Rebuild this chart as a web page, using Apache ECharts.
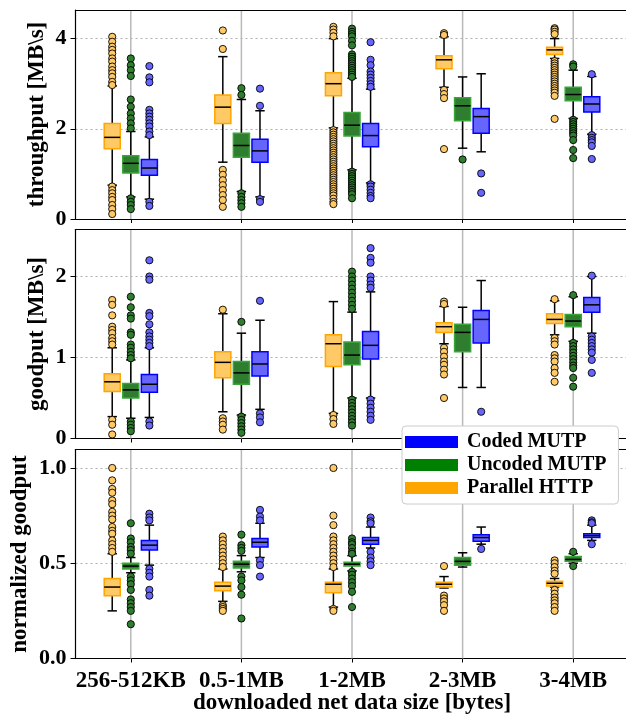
<!DOCTYPE html>
<html><head><meta charset="utf-8">
<script src="https://cdn.jsdelivr.net/npm/echarts@6/dist/echarts.min.js"></script>
<style>html,body{margin:0;padding:0;background:#fff}#c{width:626px;height:714px}</style>
</head><body><div id="c"></div><script>
// ---------- data ----------
const categories = ['256-512KB', '0.5-1MB', '1-2MB', '2-3MB', '3-4MB'];
const throughputTicks = [0, 2, 4];
const goodputTicks = [0, 1, 2];
const normTicks = [0, 0.5, 1.0];

// box stats per category: [lowWhisker, Q1, median, Q3, highWhisker]
const thrHTTP = [[0.75,1.56,1.81,2.12,2.95],[1.26,2.12,2.48,2.75,3.60],[2.02,2.73,3.00,3.24,4.00],[2.92,3.33,3.53,3.62,4.04],[3.56,3.65,3.75,3.81,4.00]];
const thrUncoded = [[0.49,1.02,1.235,1.40,1.94],[0.61,1.37,1.63,1.90,2.65],[1.09,1.84,2.08,2.36,3.12],[1.57,2.18,2.51,2.69,3.15],[2.23,2.62,2.76,2.92,3.30]];
const thrCoded = [[0.44,0.97,1.13,1.32,1.82],[0.49,1.26,1.51,1.77,2.40],[0.80,1.60,1.85,2.12,2.88],[1.49,1.90,2.27,2.45,3.22],[1.88,2.37,2.55,2.71,3.16]];
const thrHTTPOut = [
 [4.04,3.93,3.82,3.75,3.67,3.56,3.49,3.38,3.30,3.23,3.15,3.04,2.97,0.72,0.64,0.57,0.49,0.42,0.31,0.22,0.11],
 [4.18,3.77,1.09,0.98,0.86,0.75,0.64,0.53,0.42,0.27],
 [4.26,4.20,4.13,4.05,1.97,1.92,1.87,1.82,1.77,1.72,1.67,1.62,1.57,1.52,1.47,1.42,1.37,1.32,1.27,1.22,1.17,1.12,1.07,1.02,0.97,0.92,0.87,0.82,0.77,0.72,0.67,0.62,0.57,0.52,0.45,0.38,0.33],
 [4.12,4.08,2.86,2.77,2.68,1.55],
 [4.23,4.20,4.15,4.10,3.50,3.45,3.40,3.35,3.30,3.25,3.20,3.15,3.10,3.05,3.00,2.95,2.90,2.85,2.80,2.73,2.22]];
const thrUncodedOut = [
 [3.56,3.41,3.30,3.17,2.65,2.49,2.34,2.23,2.12,2.01,0.46,0.38,0.31,0.22],
 [2.90,2.75,0.57,0.49,0.42,0.35,0.27],
 [4.22,4.15,4.10,4.05,3.95,3.85,3.65,3.60,3.55,3.50,3.45,3.40,3.35,3.30,3.25,3.20,3.15,1.05,1.00,0.95,0.90,0.85,0.80,0.75,0.70,0.65,0.60,0.55,0.46],
 [1.32],
 [3.43,3.38,2.20,2.15,2.10,2.05,2.00,1.95,1.90,1.85,1.75,1.53,1.35]];
const thrCodedOut = [
 [3.39,3.14,3.03,2.42,2.34,2.27,2.20,2.12,2.05,1.94,1.86,0.38,0.29],
 [2.89,2.51,0.44,0.38],
 [3.92,3.53,3.41,3.27,3.20,3.13,3.06,2.99,2.93,0.77,0.72,0.65,0.58,0.51,0.46],
 [1.01,0.58],
 [3.21,1.86,1.80,1.75,1.70,1.62,1.33]];

const gpHTTP = [[0.27,0.58,0.70,0.80,1.12],[0.33,0.75,0.94,1.07,1.54],[0.31,0.89,1.17,1.28,1.69],[1.17,1.31,1.38,1.43,1.63],[1.28,1.42,1.47,1.54,1.70]];
const gpUncoded = [[0.25,0.50,0.60,0.68,0.97],[0.29,0.67,0.81,0.95,1.30],[0.50,0.91,1.03,1.19,1.56],[0.63,1.07,1.31,1.41,1.62],[1.20,1.38,1.45,1.53,1.75]];
const gpCoded = [[0.26,0.57,0.67,0.79,1.12],[0.36,0.77,0.92,1.07,1.46],[0.50,0.98,1.15,1.32,1.81],[0.63,1.18,1.47,1.58,1.95],[1.30,1.56,1.65,1.74,2.00]];
const gpHTTPOut = [
 [1.71,1.65,1.52,1.38,1.34,1.30,1.24,1.20,1.16,0.23,0.17,0.05],
 [1.59,0.25,0.21,0.17,0.11],
 [0.29,0.24,0.18],
 [1.69,1.66,1.12,1.07,1.01,0.95,0.91,0.85,0.79,0.50],
 [1.72,1.24,1.20,1.16,1.03,0.99,0.95,0.87,0.81,0.70]];
const gpUncodedOut = [
 [1.75,1.62,1.52,1.48,1.31,1.28,1.16,1.12,1.07,1.03,0.99,0.21,0.17,0.13,0.09],
 [1.44,0.27,0.23,0.19,0.15,0.11,0.07],
 [2.06,2.00,1.95,1.90,1.85,1.80,1.75,1.70,1.65,1.60,0.48,0.44,0.40,0.36,0.32,0.28,0.24,0.20,0.16],
 [],
 [1.77,1.18,1.14,1.10,1.06,1.02,0.98,0.94,0.90,0.87,0.75,0.64]];
const gpCodedOut = [
 [2.20,2.00,1.96,1.55,1.51,1.41,1.31,1.26,1.22,1.18,1.14,0.21,0.16],
 [1.70,0.31,0.26,0.20],
 [2.35,2.23,2.17,2.00,1.95,1.90,1.86,0.48,0.43,0.38,0.33,0.28,0.23],
 [0.33],
 [2.01,1.26,1.22,1.18,1.14,1.10,1.06,0.97,0.81]];

const ngHTTP = [[0.25,0.33,0.375,0.42,0.55],[0.30,0.355,0.38,0.40,0.47],[0.27,0.345,0.39,0.40,0.47],[0.37,0.375,0.39,0.40,0.43],[0.375,0.38,0.395,0.405,0.42]];
const ngUncoded = [[0.45,0.47,0.485,0.50,0.53],[0.455,0.475,0.495,0.51,0.54],[0.46,0.485,0.495,0.505,0.54],[0.48,0.49,0.51,0.53,0.555],[0.50,0.51,0.52,0.535,0.55]];
const ngCoded = [[0.49,0.57,0.595,0.62,0.70],[0.53,0.585,0.61,0.63,0.71],[0.58,0.60,0.62,0.635,0.69],[0.60,0.615,0.635,0.65,0.69],[0.62,0.635,0.645,0.655,0.70]];
const ngHTTPOut = [
 [1.00,0.935,0.89,0.87,0.83,0.81,0.77,0.75,0.73,0.69,0.67,0.655,0.62,0.60,0.58,0.56],
 [0.64,0.62,0.60,0.58,0.56,0.54,0.52,0.50,0.48,0.28,0.27,0.26,0.25],
 [1.00,0.75,0.70,0.64,0.62,0.60,0.58,0.56,0.54,0.52,0.50,0.48,0.26,0.25],
 [0.485,0.33,0.315,0.30,0.28,0.25],
 [0.515,0.50,0.48,0.46,0.445,0.36,0.34,0.32,0.305,0.29,0.27,0.25]];
const ngUncodedOut = [
 [0.71,0.63,0.61,0.585,0.57,0.55,0.43,0.41,0.39,0.36,0.31,0.29,0.27,0.25,0.18],
 [0.65,0.595,0.58,0.565,0.43,0.41,0.375,0.335,0.21],
 [0.63,0.61,0.60,0.58,0.56,0.55,0.455,0.44,0.42,0.40,0.38,0.35,0.27],
 [],
 [0.56,0.485]];
const ngCodedOut = [
 [0.76,0.74,0.725,0.47,0.45,0.43,0.36,0.33],
 [0.78,0.745,0.725,0.515,0.49,0.43],
 [0.74,0.72,0.71,0.56,0.53,0.51,0.49],
 [0.575],
 [0.725,0.715,0.71,0.60]];

// ---------- styling ----------
const FONT = 'Liberation Serif';
const STY = {
  'Parallel HTTP': {off: -1, fill: '#ffc966', edge: '#ffa500', dot: '#ffc966', legend: '#ffa500'},
  'Uncoded MUTP': {off: 0, fill: '#2f7d2f', edge: '#3aa63a', dot: '#2f7d2f', legend: '#008000'},
  'Coded MUTP': {off: 1, fill: '#6666ff', edge: '#0000ff', dot: '#6666ff', legend: '#0000ff'}
};
const OFFSET = 0.168, BOXW = 0.145, CAPW = 0.085;

function boxSeries(name, gi, stats) {
  const s = STY[name];
  return {
    type: 'custom', name, xAxisIndex: gi, yAxisIndex: gi, z: 3,
    encode: {x: 0, y: [1, 2, 3, 4, 5]},
    data: stats.map((v, i) => [i].concat(v)),
    renderItem: function (params, api) {
      const cat = api.value(0);
      const bw = api.size([1, 0])[0];
      const x = api.coord([cat, 0])[0] + s.off * bw * OFFSET;
      const w = bw * BOXW, cw = bw * CAPW;
      const y = k => api.coord([cat, api.value(k)])[1];
      const yL = y(1), yQ1 = y(2), yM = y(3), yQ3 = y(4), yH = y(5);
      const ls = {stroke: '#000', lineWidth: 1.5};
      return {type: 'group', children: [
        {type: 'line', shape: {x1: x, y1: yH, x2: x, y2: yQ3}, style: ls},
        {type: 'line', shape: {x1: x, y1: yQ1, x2: x, y2: yL}, style: ls},
        {type: 'line', shape: {x1: x - cw / 2, y1: yH, x2: x + cw / 2, y2: yH}, style: ls},
        {type: 'line', shape: {x1: x - cw / 2, y1: yL, x2: x + cw / 2, y2: yL}, style: ls},
        {type: 'rect', shape: {x: x - w / 2, y: yQ3, width: w, height: yQ1 - yQ3}, style: {fill: s.fill, stroke: s.edge, lineWidth: 1.5}},
        {type: 'line', shape: {x1: x - w / 2, y1: yM, x2: x + w / 2, y2: yM}, style: ls}
      ]};
    }
  };
}
function outSeries(name, gi, outs) {
  const s = STY[name];
  const data = [];
  outs.forEach((arr, i) => arr.forEach(v => data.push([i, v])));
  return {
    type: 'custom', name, xAxisIndex: gi, yAxisIndex: gi, z: 4,
    encode: {x: 0, y: 1},
    data,
    renderItem: function (params, api) {
      const cat = api.value(0);
      const bw = api.size([1, 0])[0];
      const p = api.coord([cat, api.value(1)]);
      return {type: 'circle', shape: {cx: p[0] + s.off * bw * OFFSET, cy: p[1], r: 3.6},
        style: {fill: s.dot, stroke: '#000', lineWidth: 0.9}};
    }
  };
}
function vlineSeries(gi) {
  return {
    type: 'custom', xAxisIndex: gi, yAxisIndex: gi, z: 1, silent: true,
    encode: {x: 0, y: 1},
    data: categories.map((c, i) => [i, 0]),
    renderItem: function (params, api) {
      const cs = params.coordSys;
      const x = api.coord([api.value(0), 0])[0];
      return {type: 'line', shape: {x1: x, y1: cs.y, x2: x, y2: cs.y + cs.height},
        style: {stroke: '#b8b8b8', lineWidth: 1.5}};
    }
  };
}

const GRID_TOPS = [10, 229.5, 449.5];
const GRID_H = 209;
const grids = GRID_TOPS.map(t => ({left: 75.5, top: t, width: 553, height: GRID_H, show: false, containLabel: false, outerBoundsMode: 'none'}));

const xAxes = [];
[0, 1, 2].forEach(gi => {
  xAxes.push({
    type: 'category', gridIndex: gi, data: categories, boundaryGap: true, position: 'bottom',
    axisLine: {show: true, lineStyle: {color: '#000', width: 1.2}},
    axisTick: {show: true, alignWithLabel: true, length: 4, lineStyle: {color: '#000'}},
    axisLabel: {show: gi === 2, interval: 0, hideOverlap: false, color: '#000', fontFamily: FONT, fontWeight: 'bold', fontSize: 23, margin: 11},
    splitLine: {show: false},
    name: gi === 2 ? 'downloaded net data size [bytes]' : '',
    nameLocation: 'middle', nameGap: 33, nameMoveOverlap: false,
    nameTextStyle: {color: '#000', fontFamily: FONT, fontWeight: 'bold', fontSize: 23}
  });
});
// top border lines of each panel
[0, 1, 2].forEach(gi => {
  xAxes.push({
    type: 'category', gridIndex: gi, data: categories, position: 'top', z: 6,
    axisLine: {show: true, lineStyle: {color: '#000', width: 1.2}},
    axisTick: {show: false}, axisLabel: {show: false}, splitLine: {show: false}
  });
});

function yAxis(gi, max, interval, ticks, name, nameGap, fmt) {
  return {
    type: 'value', gridIndex: gi, min: 0, max, interval,
    axisLine: {show: true, lineStyle: {color: '#000', width: 1.2}},
    axisTick: {show: true, length: 5, lineStyle: {color: '#000'}, customValues: ticks},
    axisLabel: {customValues: ticks, color: '#000', fontFamily: FONT, fontWeight: 'bold', fontSize: 22, margin: 9, formatter: fmt},
    splitLine: {show: true, lineStyle: {color: '#b0b0b0', type: [2, 3], width: 1.2}},
    name, nameLocation: 'middle', nameGap, nameMoveOverlap: false,
    nameTextStyle: {color: '#000', fontFamily: FONT, fontWeight: 'bold', fontSize: 23}
  };
}
const yAxes = [
  yAxis(0, 4.634, 2, throughputTicks, 'throughput [MB\\s]', 27, v => String(v)),
  yAxis(1, 2.58, 1, goodputTicks, 'goodput [MB\\s]', 27, v => String(v)),
  yAxis(2, 1.097, 0.5, normTicks, 'normalized goodput', 44, v => v.toFixed(1))
];

const panels = [
  [thrHTTP, thrUncoded, thrCoded, thrHTTPOut, thrUncodedOut, thrCodedOut],
  [gpHTTP, gpUncoded, gpCoded, gpHTTPOut, gpUncodedOut, gpCodedOut],
  [ngHTTP, ngUncoded, ngCoded, ngHTTPOut, ngUncodedOut, ngCodedOut]
];
const series = [];
panels.forEach((p, gi) => {
  series.push(vlineSeries(gi));
  series.push(boxSeries('Parallel HTTP', gi, p[0]));
  series.push(boxSeries('Uncoded MUTP', gi, p[1]));
  series.push(boxSeries('Coded MUTP', gi, p[2]));
  series.push(outSeries('Parallel HTTP', gi, p[3]));
  series.push(outSeries('Uncoded MUTP', gi, p[4]));
  series.push(outSeries('Coded MUTP', gi, p[5]));
});

const legendNames = ['Coded MUTP', 'Uncoded MUTP', 'Parallel HTTP'];
const chart = echarts.init(document.getElementById('c'), null, {renderer: 'canvas'});
chart.setOption({
  animation: false,
  backgroundColor: '#fff',
  grid: grids, xAxis: xAxes, yAxis: yAxes,
  legend: {
    orient: 'vertical', left: 402, top: 426, z: 10,
    itemWidth: 53, itemHeight: 12, itemGap: 3,
    padding: [6, 12, 6, 3],
    backgroundColor: '#fff', borderColor: '#cccccc', borderWidth: 1, borderRadius: 4,
    selectedMode: false,
    textStyle: {color: '#000', fontFamily: FONT, fontWeight: 'bold', fontSize: 20, padding: [0, 0, 0, 4]},
    data: legendNames.map(n => ({name: n, icon: 'rect', itemStyle: {color: STY[n].legend, borderWidth: 0}}))
  },
  series
});
</script></body></html>
